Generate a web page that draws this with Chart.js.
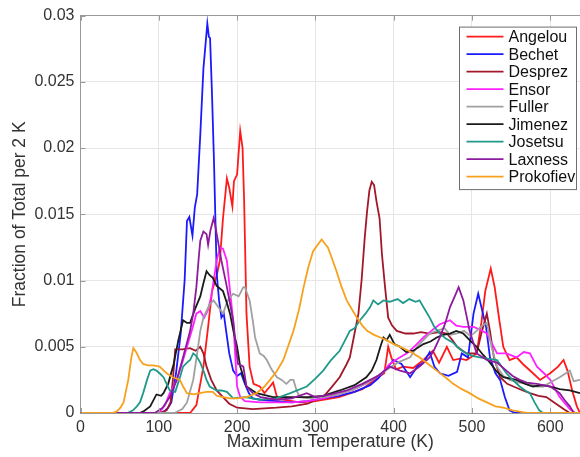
<!DOCTYPE html>
<html>
<head>
<meta charset="utf-8">
<title>Maximum Temperature</title>
<script src="https://cdn.jsdelivr.net/npm/chart.js@4.4.0/dist/chart.umd.min.js"></script>
<style>
  html, body { margin: 0; padding: 0; background: #fff; overflow: hidden; }
  canvas { display: block; }
</style>
</head>
<body>
<canvas id="chart" width="580" height="457"></canvas>
<script>
"use strict";

const names = ["Angelou", "Bechet", "Desprez", "Ensor", "Fuller", "Jimenez", "Josetsu", "Laxness", "Prokofiev"];
const colors = ["#ff1a1a", "#1a1aff", "#a3172b", "#ff22ff", "#a0a0a0", "#1a1a1a", "#1f9a8a", "#8e1a9e", "#f7a11e"];
const xTicks = [0, 100, 200, 300, 400, 500, 600];
const yTicks = [0, 0.005, 0.01, 0.015, 0.02, 0.025, 0.03];

// [temperature K, fraction]
const angelou = [[0,0],[140,0],[148,0.0006],[157,0.0035],[163,0.0065],[168,0.0092],[174,0.0104],[178,0.0115],[182,0.0147],[187,0.0177],[190,0.017],[194,0.0156],[196,0.0175],[200,0.018],[204,0.0213],[207,0.02],[209,0.016],[212,0.0075],[216,0.0035],[221,0.0022],[229,0.002],[235,0.0015],[242,0.002],[246,0.0023],[251,0.0012],[259,0.001],[280,0.0008],[300,0.0009],[330,0.0012],[360,0.0018],[380,0.0027],[388,0.003],[393,0.005],[397,0.0042],[403,0.0033],[412,0.0035],[425,0.0034],[438,0.004],[450,0.0047],[458,0.0038],[468,0.005],[476,0.004],[485,0.0041],[493,0.004],[506,0.0045],[512,0.0068],[517,0.0092],[524,0.0109],[529,0.0095],[535,0.007],[540,0.005],[548,0.004],[557,0.0042],[565,0.0037],[578,0.003],[587,0.0025],[600,0.003],[610,0.0035],[617,0.004],[622,0.0032],[628,0.0017],[634,0.0005],[638,0]];
const bechet = [[0,0],[105,0],[112,0.0004],[116,0.0008],[122,0.003],[128,0.006],[133,0.01],[136,0.0145],[139,0.0148],[143,0.0134],[146,0.0155],[149,0.0165],[153,0.021],[157,0.026],[162,0.0294],[164,0.0284],[165.5,0.0283],[168,0.024],[170.5,0.019],[174,0.0105],[177,0.0085],[180,0.0072],[183,0.0075],[186,0.0062],[190,0.0045],[195,0.0032],[200,0.0028],[205,0.003],[210,0.0022],[215,0.0015],[220,0.0011],[230,0.001],[250,0.0009],[270,0.0008],[290,0.0009],[310,0.0011],[330,0.0013],[350,0.0016],[370,0.0021],[380,0.0026],[390,0.0033],[400,0.004],[410,0.0037],[421,0.0027],[430,0.0035],[438,0.0038],[446,0.0046],[452,0.0035],[459,0.003],[470,0.0028],[481,0.0031],[487,0.0045],[495,0.0042],[502,0.0075],[508,0.009],[514,0.0075],[518,0.0065],[523,0.0042],[530,0.003],[536,0.0025],[542,0.0012],[548,0.0002],[555,0],[638,0]];
const desprez = [[0,0],[100,0],[110,0.0002],[115,0.0008],[118,0.0025],[121,0.0048],[130,0.0048],[140,0.0049],[147,0.0047],[153,0.005],[157,0.0045],[161,0.0035],[167,0.0025],[174,0.0017],[182,0.0012],[190,0.0007],[200,0.0004],[220,0.0003],[250,0.0004],[270,0.0005],[290,0.0007],[310,0.0012],[320,0.0019],[331,0.0027],[340,0.0037],[344,0.0042],[350,0.006],[355,0.0075],[359,0.01],[363,0.0132],[366,0.0152],[369,0.0168],[372,0.01745],[375,0.0172],[378,0.016],[382,0.0147],[385,0.012],[389,0.0095],[393,0.0072],[398,0.0066],[404,0.0062],[415,0.006],[425,0.006],[435,0.0061],[446,0.006],[458,0.0061],[468,0.006],[475,0.0055],[481,0.005],[493,0.0045],[506,0.0045],[512,0.006],[519,0.0075],[523,0.0062],[528,0.0042],[536,0.0027],[545,0.0022],[553,0.002],[565,0.0017],[574,0.0015],[585,0.0013],[595,0.0012],[605,0.0008],[617,0.0003],[625,0],[638,0]];
const ensor = [[0,0],[100,0],[108,0.0006],[114,0.0015],[123,0.0025],[130,0.0038],[136,0.005],[142,0.0062],[148,0.0075],[153,0.0077],[158,0.0072],[163,0.0078],[167,0.0088],[170,0.01],[174,0.0115],[178,0.0125],[182,0.0124],[187,0.0115],[191,0.0092],[195,0.007],[200,0.002],[204,0.0012],[210,0.0009],[230,0.0008],[250,0.0008],[270,0.0008],[290,0.0009],[310,0.0011],[330,0.0014],[350,0.0018],[370,0.0024],[385,0.003],[395,0.0037],[405,0.0041],[417,0.0045],[428,0.0051],[438,0.0057],[448,0.0062],[459,0.0067],[472,0.007],[480,0.0066],[489,0.0065],[502,0.0065],[510,0.0063],[519,0.006],[526,0.0052],[532,0.0045],[544,0.0045],[557,0.0042],[566,0.0046],[574,0.0045],[583,0.0035],[592,0.003],[600,0.0025],[612,0.0012],[625,0.0003],[632,0],[638,0]];
const fuller = [[0,0],[120,0],[130,0.0003],[136,0.0008],[144,0.0025],[149,0.0045],[153,0.0062],[157,0.0072],[161,0.0077],[165,0.0082],[170,0.0085],[176,0.008],[182,0.0075],[188,0.0085],[195,0.009],[202,0.0088],[208,0.0095],[210,0.0095],[213,0.009],[216,0.0085],[220,0.007],[223,0.0057],[229,0.0045],[234,0.0043],[238,0.004],[244,0.0033],[251,0.0027],[257,0.0025],[263,0.0022],[268,0.0025],[272,0.0025],[276,0.0017],[280,0.0012],[290,0.0011],[310,0.0012],[330,0.0014],[350,0.0018],[370,0.0024],[390,0.0032],[405,0.0038],[421,0.0042],[430,0.005],[438,0.0055],[446,0.006],[455,0.0062],[465,0.0064],[472,0.0059],[480,0.006],[490,0.0062],[498,0.0058],[506,0.0062],[513,0.0066],[519,0.0068],[525,0.005],[532,0.0035],[540,0.0028],[548,0.0025],[560,0.0023],[574,0.0022],[583,0.002],[591,0.002],[600,0.0023],[612,0.0027],[620,0.003],[625,0.0032],[630,0.0024],[638,0.0025]];
const jimenez = [[0,0],[75,0],[80,0.0001],[89,0.0005],[97,0.0014],[103,0.0013],[106,0.0015],[112,0.0022],[119,0.0037],[125,0.0055],[131,0.007],[136,0.0068],[140,0.0068],[146,0.0078],[153,0.0088],[157,0.0098],[161,0.0107],[165,0.0104],[169,0.0102],[174,0.0096],[178,0.0094],[182,0.0092],[187,0.0083],[191,0.0075],[196,0.006],[200,0.005],[204,0.0035],[212,0.002],[225,0.0015],[246,0.0012],[268,0.0012],[290,0.0012],[310,0.0013],[331,0.0017],[350,0.0021],[365,0.0027],[372,0.0032],[378,0.004],[383,0.005],[387,0.0057],[391,0.0055],[395,0.0059],[401,0.0052],[408,0.005],[416,0.0046],[425,0.0047],[438,0.0052],[447,0.0054],[455,0.0057],[463,0.0059],[472,0.006],[480,0.0062],[489,0.006],[497,0.0055],[506,0.005],[514,0.0044],[523,0.0038],[532,0.0031],[540,0.0027],[557,0.0025],[568,0.0022],[578,0.002],[590,0.0021],[600,0.002],[612,0.0018],[625,0.0017],[638,0.0015]];
const josetsu = [[0,0],[60,0],[67,0.0002],[72,0.0005],[76,0.0008],[80,0.0015],[85,0.0025],[89,0.0032],[93,0.0033],[97,0.0032],[101,0.003],[106,0.0027],[110,0.0022],[114,0.0017],[121,0.0016],[126,0.0025],[131,0.0035],[136,0.0038],[140,0.004],[144,0.0045],[148,0.0043],[153,0.0038],[157,0.0032],[161,0.0025],[165,0.002],[174,0.0017],[180,0.0017],[187,0.0016],[195,0.0011],[210,0.0012],[230,0.001],[250,0.0011],[268,0.0015],[289,0.002],[300,0.0026],[310,0.0032],[320,0.004],[331,0.0047],[338,0.0055],[344,0.0062],[350,0.0064],[357,0.007],[364,0.0075],[370,0.008],[374,0.0085],[380,0.0082],[387,0.0085],[395,0.0084],[405,0.0086],[412,0.0083],[420,0.0086],[428,0.0084],[433,0.0085],[440,0.0078],[446,0.0072],[452,0.0065],[459,0.006],[467,0.0056],[476,0.0053],[485,0.0048],[493,0.0045],[502,0.0043],[510,0.0042],[520,0.0041],[532,0.004],[538,0.0035],[544,0.003],[552,0.0025],[561,0.002],[568,0.0017],[574,0.0015],[580,0.0008],[586,0.0002],[591,0],[638,0]];
const laxness = [[0,0],[95,0],[105,0.0004],[114,0.0012],[123,0.0025],[131,0.0042],[140,0.0062],[144,0.0075],[148,0.0095],[151,0.0117],[153,0.013],[157,0.0137],[161,0.0135],[163,0.0127],[166,0.0138],[170,0.0147],[172,0.0142],[174,0.0135],[180,0.0115],[187,0.0095],[195,0.007],[201,0.0037],[205,0.0036],[208,0.0035],[212,0.002],[220,0.0015],[230,0.0012],[250,0.001],[270,0.0011],[289,0.0015],[300,0.0012],[320,0.0014],[340,0.0017],[360,0.0022],[380,0.0028],[395,0.0035],[408,0.0032],[421,0.003],[433,0.0035],[446,0.0042],[452,0.0048],[459,0.0057],[466,0.0068],[472,0.008],[478,0.0088],[483,0.0095],[489,0.0085],[497,0.0062],[506,0.0045],[519,0.004],[532,0.0038],[544,0.0032],[552,0.0028],[561,0.0025],[570,0.0023],[583,0.0022],[600,0.002],[612,0.0015],[618,0.001],[625,0.0005],[630,0],[638,0]];
const prokofiev = [[0,0],[40,0],[46,0.0001],[51,0.0004],[55,0.0008],[61,0.0025],[65,0.0042],[67.5,0.0049],[70,0.0047],[72,0.0045],[76,0.004],[80,0.0037],[86,0.0036],[93,0.0036],[101,0.0035],[110,0.003],[118,0.0027],[127,0.0025],[131,0.002],[136,0.0015],[144,0.0014],[152,0.0015],[161,0.0016],[169,0.0016],[174,0.0013],[182,0.0012],[191,0.0011],[200,0.0011],[212,0.0012],[225,0.0015],[235,0.002],[242,0.0025],[250,0.0031],[259,0.004],[265,0.005],[272,0.0062],[279,0.0078],[285,0.0095],[291,0.011],[297,0.0122],[303,0.0127],[308,0.0131],[312,0.0128],[316,0.0125],[321,0.0117],[327,0.0107],[333,0.0096],[340,0.0085],[347,0.0078],[353,0.0072],[360,0.0066],[366,0.0062],[375,0.0059],[383,0.0057],[391,0.0055],[400,0.0052],[412,0.0049],[422,0.0046],[433,0.0042],[444,0.0037],[455,0.0032],[466,0.0027],[476,0.0022],[487,0.0018],[497,0.0015],[508,0.0011],[519,0.0008],[530,0.0005],[540,0.0004],[552,0.0002],[561,0.0001],[570,0],[638,0]];

const seriesData = [angelou, bechet, desprez, ensor, fuller, jimenez, josetsu, laxness, prokofiev];

const FONT = '"Liberation Sans", Arial, Helvetica, sans-serif';
const GRID = "#e6e6e6";
const AXIS = "#999999";
const TEXT = "#333333";

// MATLAB-style legend: boxed, top right inside the axes
const boxLegend = {
  id: "boxLegend",
  afterDatasetsDraw(chart) {
    const { ctx, chartArea } = chart;
    const rowH = 17.5;
    const x0 = chartArea.right - 120.5;
    const y0 = chartArea.top + 11.5;
    const w = 117;
    const h = names.length * rowH + 5;
    ctx.save();
    ctx.fillStyle = "#ffffff";
    ctx.fillRect(x0, y0, w, h);
    ctx.strokeStyle = "#6e6e6e";
    ctx.lineWidth = 1;
    ctx.strokeRect(x0, y0, w, h);
    ctx.font = "16px " + FONT;
    ctx.textBaseline = "middle";
    chart.data.datasets.forEach((ds, i) => {
      const y = y0 + 9.5 + i * rowH;
      ctx.strokeStyle = ds.borderColor;
      ctx.lineWidth = 1.8;
      ctx.beginPath();
      ctx.moveTo(x0 + 7, y);
      ctx.lineTo(x0 + 44, y);
      ctx.stroke();
      ctx.fillStyle = "#111111";
      ctx.fillText(ds.label, x0 + 49, y + 1);
    });
    ctx.restore();
  },
};

// small inward tick marks, like MATLAB axes
const innerTicks = {
  id: "innerTicks",
  afterDraw(chart) {
    const { ctx, chartArea, scales } = chart;
    const len = 5;
    ctx.save();
    ctx.strokeStyle = AXIS;
    ctx.lineWidth = 1;
    ctx.beginPath();
    xTicks.forEach((v) => {
      const px = Math.round(scales.x.getPixelForValue(v)) + 0.5;
      ctx.moveTo(px, chartArea.bottom);
      ctx.lineTo(px, chartArea.bottom - len);
      ctx.moveTo(px, chartArea.top);
      ctx.lineTo(px, chartArea.top + len);
    });
    yTicks.forEach((v) => {
      const py = Math.round(scales.y.getPixelForValue(v)) + 0.5;
      ctx.moveTo(chartArea.left, py);
      ctx.lineTo(chartArea.left + len, py);
    });
    ctx.stroke();
    ctx.restore();
  },
};

const datasets = names.map((name, i) => ({
  label: name,
  data: seriesData[i].map(([t, f]) => ({ x: t, y: f })),
  borderColor: colors[i],
  backgroundColor: colors[i],
  borderWidth: 1.8,
  pointRadius: 0,
  tension: 0,
  fill: false,
  order: names.length - i,
}));

new Chart(document.getElementById("chart"), {
  type: "line",
  data: { datasets },
  plugins: [innerTicks, boxLegend],
  options: {
    responsive: false,
    animation: false,
    layout: { padding: { top: 13, left: 0, right: 0, bottom: 0 } },
    plugins: { legend: { display: false }, tooltip: { enabled: false } },
    scales: {
      x: {
        type: "linear",
        min: 0,
        max: 638,
        afterBuildTicks: (scale) => {
          scale.ticks = xTicks.map((v) => ({ value: v }));
        },
        afterFit: (scale) => { scale.height = 44; },
        ticks: { color: TEXT, font: { family: FONT, size: 16 }, padding: 5, maxRotation: 0 },
        grid: { color: GRID, lineWidth: 1, drawTicks: false },
        border: { display: true, color: AXIS, width: 1 },
        title: {
          display: true,
          text: "Maximum Temperature (K)",
          color: TEXT,
          font: { family: FONT, size: 17.5 },
          padding: { top: 0, bottom: 4 },
        },
      },
      y: {
        type: "linear",
        min: 0,
        max: 0.03,
        afterBuildTicks: (scale) => {
          scale.ticks = yTicks.map((v) => ({ value: v }));
        },
        afterFit: (scale) => { scale.width = 80.5; },
        ticks: {
          color: TEXT,
          font: { family: FONT, size: 16 },
          padding: 6,
          callback: (v) => String(+v.toFixed(3)),
        },
        grid: {
          color: (c) => (c.tick && c.tick.value === 0.03 ? AXIS : GRID),
          lineWidth: 1,
          drawTicks: false,
        },
        border: { display: true, color: AXIS, width: 1 },
        title: {
          display: true,
          text: "Fraction of Total per 2 K",
          color: TEXT,
          font: { family: FONT, size: 17.5 },
          padding: { top: 9.5, bottom: 0 },
        },
      },
    },
  },
});
</script>
</body>
</html>
